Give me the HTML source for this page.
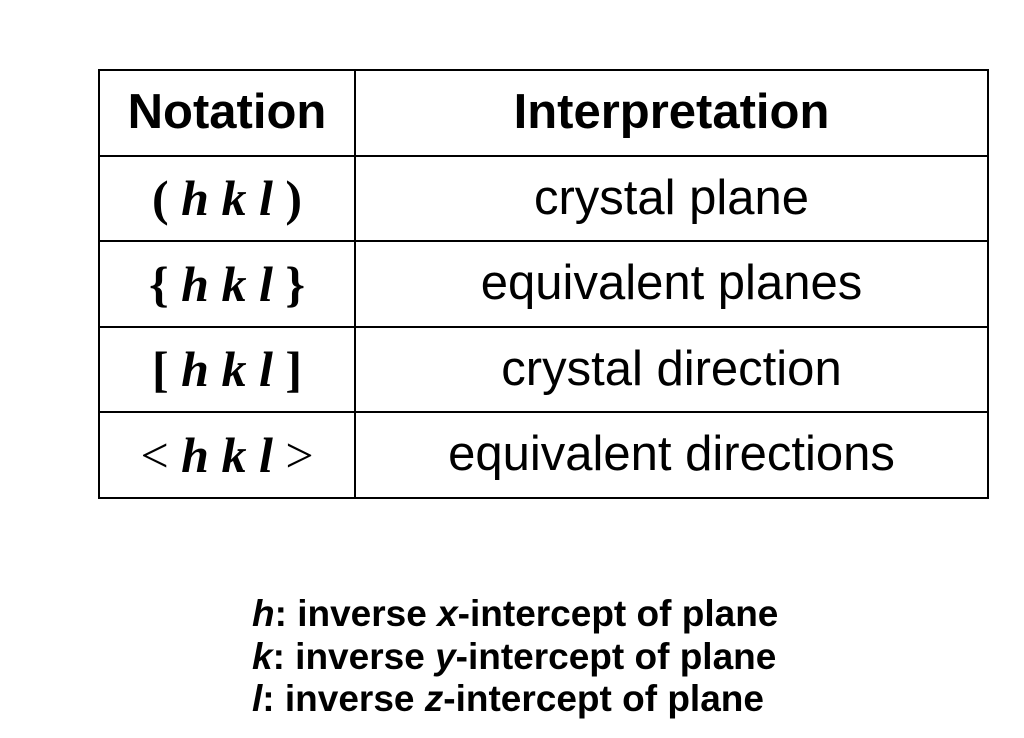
<!DOCTYPE html>
<html><head><meta charset="utf-8"><style>
body{margin:0;width:1024px;height:738px;background:#fff;position:relative;overflow:hidden}
table{position:absolute;left:98px;top:69px;border-collapse:collapse;}
td{border:2px solid #000;padding:0;text-align:center;height:83.5px;color:#000;line-height:1}
.c1{width:254px}.c2{width:631px}
.h{font-family:"Liberation Sans",sans-serif;font-weight:bold;font-size:49px}
.n{font-family:"Liberation Serif",serif;font-weight:bold;font-size:50px}
.n i{font-style:italic}
.b{font-family:"Liberation Sans",sans-serif;font-size:49px}
.foot{position:absolute;left:252px;top:593px;font-family:"Liberation Sans",sans-serif;font-weight:bold;font-size:37px;line-height:42.5px;color:#000}
</style></head><body>
<table>
<tr><td class="c1 h">Notation</td><td class="c2 h">Interpretation</td></tr>
<tr><td class="n">( <i>h k l</i> )</td><td class="b">crystal plane</td></tr>
<tr><td class="n">{ <i>h k l</i> }</td><td class="b">equivalent planes</td></tr>
<tr><td class="n">[ <i>h k l</i> ]</td><td class="b">crystal direction</td></tr>
<tr><td class="n"><span style="font-weight:normal">&lt;</span> <i>h k l</i> <span style="font-weight:normal">&gt;</span></td><td class="b">equivalent directions</td></tr>
</table>
<div class="foot">
<div><i>h</i>: inverse <i>x</i>-intercept of plane</div>
<div><i>k</i>: inverse <i>y</i>-intercept of plane</div>
<div><i>l</i>: inverse <i>z</i>-intercept of plane</div>
</div>
</body></html>
